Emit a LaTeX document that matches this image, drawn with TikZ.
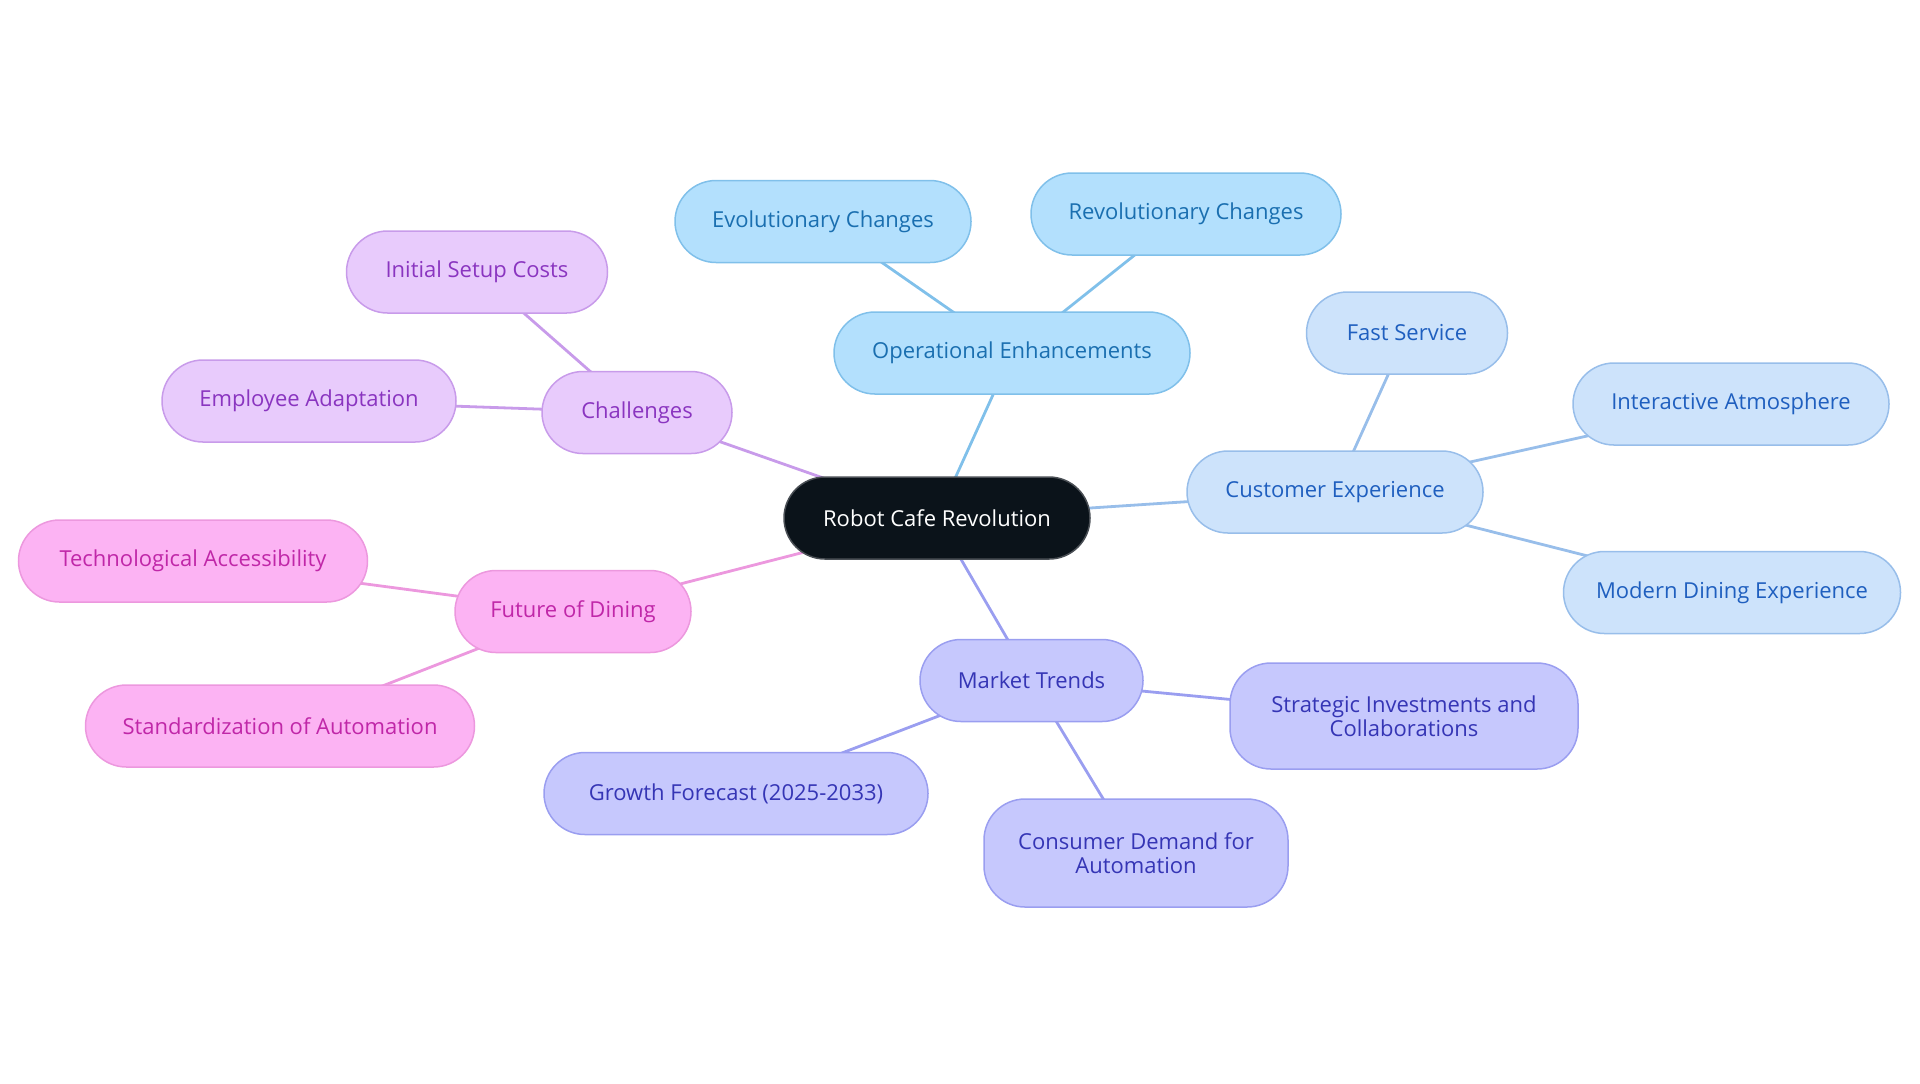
\documentclass[tikz,border=0pt]{standalone}
\usepackage{fontspec}
\setmainfont{Open Sans}
\usetikzlibrary{backgrounds}
\definecolor{rootfill}{HTML}{0B131A}
\definecolor{rootdraw}{HTML}{4A4F55}
\definecolor{opfill}{HTML}{B3E0FD}
\definecolor{opdraw}{HTML}{80C0EA}
\definecolor{optext}{HTML}{1A6FB0}
\definecolor{cefill}{HTML}{CDE3FB}
\definecolor{cedraw}{HTML}{98BEEA}
\definecolor{cetext}{HTML}{1F5FBF}
\definecolor{mtfill}{HTML}{C6C8FD}
\definecolor{mtdraw}{HTML}{9A9EF0}
\definecolor{mttext}{HTML}{3535B5}
\definecolor{chfill}{HTML}{E8CBFC}
\definecolor{chdraw}{HTML}{C89BEA}
\definecolor{chtext}{HTML}{8A35C0}
\definecolor{fdfill}{HTML}{FCB3F3}
\definecolor{fddraw}{HTML}{EC98DE}
\definecolor{fdtext}{HTML}{C027A8}
\tikzset{
  box/.style={draw, line width=0.75pt, rounded corners=20.5pt, minimum height=41pt,
    inner sep=0pt, align=center, font=\fontsize{11}{12}\selectfont},
  rootbox/.style={box, fill=rootfill, draw=rootdraw, text=white},
  opbox/.style={box, fill=opfill, draw=opdraw, text=optext},
  cebox/.style={box, fill=cefill, draw=cedraw, text=cetext},
  mtbox/.style={box, fill=mtfill, draw=mtdraw, text=mttext},
  chbox/.style={box, fill=chfill, draw=chdraw, text=chtext},
  fdbox/.style={box, fill=fdfill, draw=fddraw, text=fdtext},
  link/.style={line width=1.4pt},
}
\begin{document}
\begin{tikzpicture}[x=0.5pt, y=-0.5pt]
\useasboundingbox (0,0) rectangle (1920,1083);
\node[rootbox, minimum width=153pt] (root) at (937,518) {Robot Cafe Revolution};
\node[opbox, minimum width=178pt] (op) at (1012,353) {Operational Enhancements};
\node[opbox, minimum width=148pt] (evo) at (823,221.5) {Evolutionary Changes};
\node[opbox, minimum width=155pt] (rev) at (1186,214) {Revolutionary Changes};
\node[cebox, minimum width=148pt] (ce) at (1335,492) {Customer Experience};
\node[cebox, minimum width=100.5pt] (fast) at (1407,333) {Fast Service};
\node[cebox, minimum width=158pt] (inter) at (1731,404) {Interactive Atmosphere};
\node[cebox, minimum width=168.5pt] (modern) at (1732,592.5) {Modern Dining Experience};
\node[mtbox, minimum width=111.5pt] (mt) at (1031.5,680.5) {Market Trends};
\node[mtbox, minimum width=174pt, minimum height=53pt] (strat) at (1404,716) {Strategic Investments and\\Collaborations};
\node[mtbox, minimum width=152pt, minimum height=54pt] (cons) at (1136,853) {Consumer Demand for\\Automation};
\node[mtbox, minimum width=192pt] (growth) at (736,793.5) {Growth Forecast (2025-2033)};
\node[chbox, minimum width=95pt] (ch) at (637,412.5) {Challenges};
\node[chbox, minimum width=130.5pt] (setup) at (477,272) {Initial Setup Costs};
\node[chbox, minimum width=147pt] (emp) at (309,401) {Employee Adaptation};
\node[fdbox, minimum width=118pt] (fd) at (573,611.5) {Future of Dining};
\node[fdbox, minimum width=174.5pt] (tech) at (193,561) {Technological Accessibility};
\node[fdbox, minimum width=194.5pt] (std) at (280,726) {Standardization of Automation};
\begin{pgfonlayer}{background}
\draw[link, draw=opdraw] (root.center) -- (op.center);
\draw[link, draw=opdraw] (op.center) -- (evo.center);
\draw[link, draw=opdraw] (op.center) -- (rev.center);
\draw[link, draw=cedraw] (root.center) -- (ce.center);
\draw[link, draw=cedraw] (ce.center) -- (fast.center);
\draw[link, draw=cedraw] (ce.center) -- (inter.center);
\draw[link, draw=cedraw] (ce.center) -- (modern.center);
\draw[link, draw=mtdraw] (root.center) -- (mt.center);
\draw[link, draw=mtdraw] (mt.center) -- (strat.center);
\draw[link, draw=mtdraw] (mt.center) -- (cons.center);
\draw[link, draw=mtdraw] (mt.center) -- (growth.center);
\draw[link, draw=chdraw] (root.center) -- (ch.center);
\draw[link, draw=chdraw] (ch.center) -- (setup.center);
\draw[link, draw=chdraw] (ch.center) -- (emp.center);
\draw[link, draw=fddraw] (root.center) -- (fd.center);
\draw[link, draw=fddraw] (fd.center) -- (tech.center);
\draw[link, draw=fddraw] (fd.center) -- (std.center);
\end{pgfonlayer}
\end{tikzpicture}
\end{document}
